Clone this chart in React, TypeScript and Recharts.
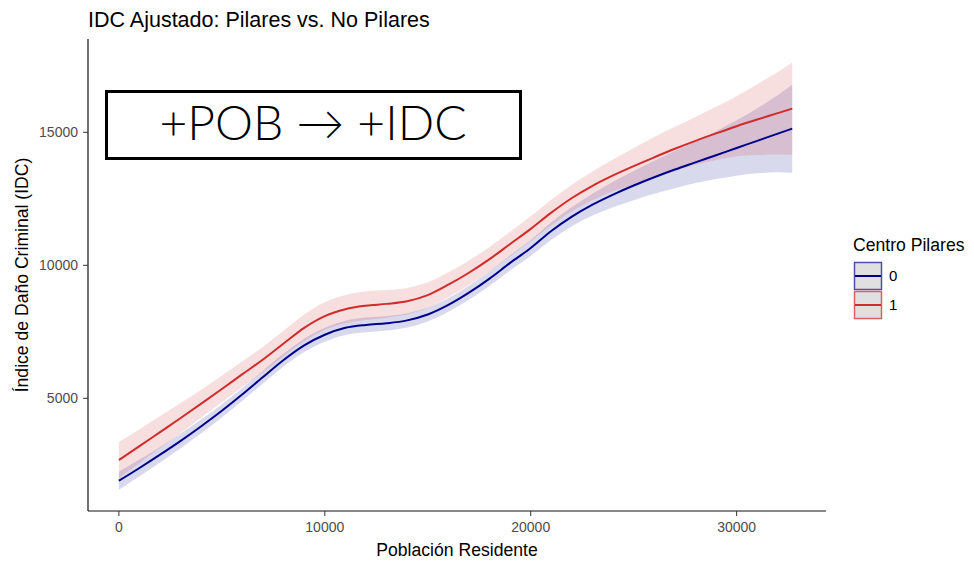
import { Area, ComposedChart, Line, XAxis, YAxis } from "recharts";

// Población residente (eje X)
const poblacion = [
  0, 1000, 2000, 3000, 4000, 5000, 6000, 7000, 8000, 9000, 10000, 11000, 12000,
  13000, 14000, 15000, 16000, 17000, 18000, 19000, 20000, 21000, 22000, 23000,
  24000, 25000, 26000, 27000, 28000, 29000, 30000, 31000, 32000, 32700,
];

// Centro Pilares = 0: ajuste loess y banda de confianza
const idcSinPilares = [
  1900, 2380, 2880, 3400, 3950, 4530, 5150, 5800, 6440, 6990, 7390, 7650, 7760,
  7820, 7930, 8150, 8510, 8970, 9500, 10090, 10650, 11290, 11830, 12280, 12660,
  13000, 13310, 13600, 13870, 14140, 14410, 14680, 14950, 15140,
];
const idcSinPilaresLo = [
  1560, 2065, 2590, 3125, 3690, 4280, 4910, 5560, 6200, 6740, 7130, 7380, 7480,
  7545, 7660, 7885, 8250, 8705, 9230, 9805, 10350, 10960, 11470, 11870, 12180,
  12450, 12690, 12900, 13090, 13240, 13370, 13460, 13500, 13480,
];
const idcSinPilaresHi = [
  2240, 2695, 3170, 3675, 4210, 4780, 5390, 6040, 6680, 7240, 7650, 7920, 8040,
  8095, 8200, 8415, 8770, 9235, 9770, 10375, 10950, 11620, 12190, 12690, 13140,
  13550, 13930, 14300, 14650, 15040, 15450, 15900, 16400, 16800,
];

// Centro Pilares = 1
const idcConPilares = [
  2680, 3200, 3730, 4260, 4800, 5350, 5910, 6460, 7060, 7650, 8090, 8350, 8480,
  8550, 8650, 8880, 9270, 9720, 10230, 10800, 11370, 11980, 12530, 12990, 13380,
  13730, 14060, 14380, 14680, 14960, 15230, 15480, 15720, 15890,
];
const idcConPilaresLo = [
  2000, 2560, 3130, 3700, 4280, 4850, 5430, 5980, 6580, 7150, 7570, 7820, 7940,
  8030, 8150, 8400, 8800, 9255, 9770, 10335, 10900, 11495, 12030, 12450, 12780,
  13050, 13300, 13550, 13780, 13960, 14100, 14150, 14170, 14160,
];
const idcConPilaresHi = [
  3360, 3840, 4330, 4820, 5320, 5850, 6390, 6940, 7540, 8150, 8610, 8880, 9020,
  9070, 9150, 9360, 9740, 10185, 10690, 11265, 11840, 12465, 13030, 13530, 13980,
  14410, 14820, 15210, 15580, 15960, 16360, 16810, 17270, 17620,
];

const xTicks = [0, 10000, 20000, 30000];
const yTicks = [5000, 10000, 15000];

const AZUL = "#00008B";
const ROJO = "#D22B2B";
const FONT = "'Liberation Sans', Arial, sans-serif";

const data = poblacion.map((x, i) => ({
  x,
  fit0: idcSinPilares[i],
  band0: [idcSinPilaresLo[i], idcSinPilaresHi[i]],
  fit1: idcConPilares[i],
  band1: [idcConPilaresLo[i], idcConPilaresHi[i]],
}));

const tickStyle = { fill: "#4D4D4D", fontSize: 14, fontFamily: FONT };

export default function App() {
  return (
    <div
      style={{
        position: "absolute",
        left: 0,
        top: 0,
        width: 974,
        height: 561,
        overflow: "hidden",
        background: "#fff",
        fontFamily: FONT,
      }}
    >
      <ComposedChart
        width={974}
        height={561}
        data={data}
        margin={{ top: 39, right: 148, bottom: 20, left: 28 }}
      >
        <XAxis
          type="number"
          dataKey="x"
          domain={[-1500, 34340]}
          ticks={xTicks}
          interval={0}
          allowDataOverflow
          height={30}
          tickSize={5}
          tickMargin={6}
          tick={tickStyle}
          tickLine={{ stroke: "#333" }}
          axisLine={{ stroke: "#111", strokeWidth: 1.2 }}
        />
        <YAxis
          type="number"
          domain={[763, 18508]}
          ticks={yTicks}
          interval={0}
          allowDataOverflow
          width={60}
          tickSize={5}
          tickMargin={5}
          tick={tickStyle}
          tickLine={{ stroke: "#333" }}
          axisLine={{ stroke: "#111", strokeWidth: 1.2 }}
        />
        <Area
          type="monotone"
          dataKey="band0"
          stroke="none"
          fill={AZUL}
          fillOpacity={0.15}
          dot={false}
          activeDot={false}
          isAnimationActive={false}
        />
        <Line
          type="monotone"
          dataKey="fit0"
          stroke={AZUL}
          strokeWidth={2}
          dot={false}
          activeDot={false}
          isAnimationActive={false}
        />
        <Area
          type="monotone"
          dataKey="band1"
          stroke="none"
          fill={ROJO}
          fillOpacity={0.15}
          dot={false}
          activeDot={false}
          isAnimationActive={false}
        />
        <Line
          type="monotone"
          dataKey="fit1"
          stroke={ROJO}
          strokeWidth={2}
          dot={false}
          activeDot={false}
          isAnimationActive={false}
        />
      </ComposedChart>

      <svg
        width={974}
        height={561}
        style={{ position: "absolute", left: 0, top: 0, pointerEvents: "none" }}
        fontFamily={FONT}
      >
        <text x={88} y={27} fontSize={21.5} fill="#000">
          IDC Ajustado: Pilares vs. No Pilares
        </text>

        {/* recuadro de anotación */}
        <rect x={106.5} y={91.5} width={414} height={67} fill="#fff" stroke="#000" strokeWidth={3} />
        <text
          x={313}
          y={140}
          fontSize={48}
          fontWeight={300}
          fontFamily="Lato, Roboto, sans-serif"
          textAnchor="middle"
          fill="#000"
        >
          +POB → +IDC
        </text>

        <text x={457} y={556} fontSize={17.6} textAnchor="middle" fill="#000">
          Población Residente
        </text>
        <text
          x={28}
          y={275}
          fontSize={17.6}
          textAnchor="middle"
          fill="#000"
          transform="rotate(-90 28 275)"
        >
          Índice de Daño Criminal (IDC)
        </text>

        {/* leyenda */}
        <text x={853} y={251} fontSize={17.6} fill="#000">
          Centro Pilares
        </text>
        <rect x={854.5} y={262.5} width={27} height={27} fill="#E0E0E0" stroke="#5050AA" strokeWidth={1.5} />
        <line x1={855} x2={881} y1={276} y2={276} stroke={AZUL} strokeWidth={2} />
        <text x={889} y={281} fontSize={15} fill="#000">0</text>
        <rect x={854.5} y={291.5} width={27} height={27} fill="#E0E0E0" stroke="#D86262" strokeWidth={1.5} />
        <line x1={855} x2={881} y1={305} y2={305} stroke={ROJO} strokeWidth={2} />
        <text x={889} y={310} fontSize={15} fill="#000">1</text>
      </svg>
    </div>
  );
}
